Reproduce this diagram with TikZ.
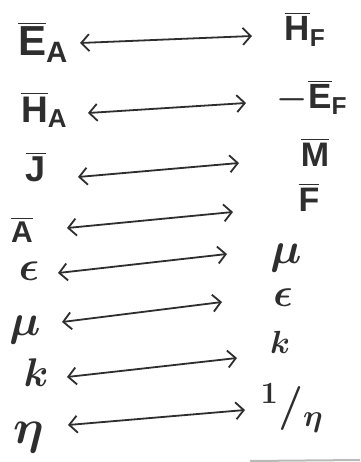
\RequirePackage{fix-cm}
\documentclass[tikz,border=0pt]{standalone}
\usepackage{amsmath}
\usepackage{fontspec}
\setmainfont{Liberation Sans}
\usetikzlibrary{arrows.meta}
\definecolor{ink}{HTML}{2E2E2E}
\tikzset{
  lab/.style={inner sep=0pt, text=ink},
  dbl/.style={draw=ink, line width=1.8pt, line cap=round, line join=round,
    {Straight Barb[length=8pt,width=17pt,line width=1.8pt]}-{Straight Barb[length=8pt,width=17pt,line width=1.8pt]}},
}
\newcommand{\fs}[1]{\fontsize{#1}{#1}\selectfont\bfseries\boldmath}
\begin{document}
\begin{tikzpicture}[x=1pt,y=-1pt]
\useasboundingbox[fill=white] (0,0) rectangle (360,462);
% left labels
\node[lab, font=\fs{42}] (ea) at (43,42) {$\overline{\text{E}}_{\text{A}}$};
\node[lab, font=\fs{37}] (ha) at (44,110) {$\overline{\text{H}}_{\text{A}}$};
\node[lab, font=\fs{36}] (j)  at (36,167) {$\overline{\text{J}}$};
\node[lab, font=\fs{30}] (a)  at (22,230) {$\overline{\text{A}}$};
\node[lab, font=\fs{42}] (eps1) at (29,271) {$\epsilon$};
\node[lab, font=\fs{44}] (mu1) at (25,330) {$\mu$};
\node[lab, font=\fs{40}] (k1) at (36,373) {$k$};
\node[lab, font=\fs{48}] (eta1) at (29,437) {$\eta$};
% right labels
\node[lab, font=\fs{35}] (hf) at (305,29) {$\overline{\text{H}}_{\text{F}}$};
\node[lab, font=\fs{35}] (ef) at (312,97) {$-\overline{\text{E}}_{\text{F}}$};
\node[lab, font=\fs{34}] (m)  at (315,152) {$\overline{\text{M}}$};
\node[lab, font=\fs{34}] (f)  at (309,197) {$\overline{\text{F}}$};
\node[lab, font=\fs{44}] (mu2) at (286,258) {$\mu$};
\node[lab, font=\fs{40}] (eps2) at (283,298) {$\epsilon$};
\node[lab, font=\fs{32}] (k2) at (280,342) {$k$};
\node[lab, font=\fs{44}] (inv) at (292,408) {$^{1}/_{\eta}$};
% arrow ends
\coordinate (l1) at (80,43);  \coordinate (r1) at (252,36);
\coordinate (l2) at (88,113); \coordinate (r2) at (246,103);
\coordinate (l3) at (78,177); \coordinate (r3) at (239,163);
\coordinate (l4) at (67,228); \coordinate (r4) at (233,212);
\coordinate (l5) at (58,273); \coordinate (r5) at (227,254);
\coordinate (l6) at (62,322); \coordinate (r6) at (222,302);
\coordinate (l7) at (67,377); \coordinate (r7) at (237,358);
\coordinate (l8) at (68,425); \coordinate (r8) at (245,410);
\foreach \i in {1,...,8} \draw[dbl] (l\i) -- (r\i);
% scan edge
\coordinate (s1) at (250,461); \coordinate (s2) at (360,460);
\draw[gray!55, line width=2pt] (s1) -- (s2);
\end{tikzpicture}
\end{document}
